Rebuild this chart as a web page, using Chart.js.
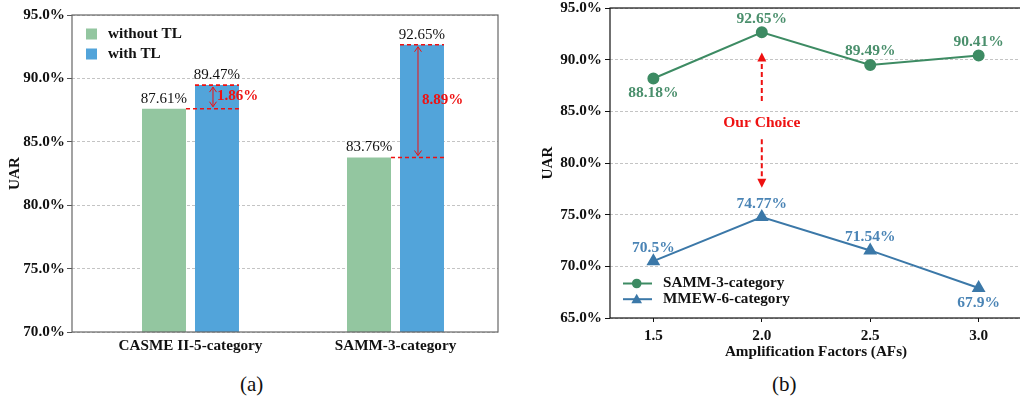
<!DOCTYPE html>
<html>
<head>
<meta charset="utf-8">
<script src="https://cdn.jsdelivr.net/npm/chart.js@4/dist/chart.umd.min.js"></script>
<style>
  html, body { margin: 0; padding: 0; background: #fff; overflow: hidden; }
  body { width: 1020px; height: 401px; position: relative; }
  #chartA { position: absolute; left: 0; top: 0; }
  #chartB { position: absolute; left: 510px; top: 0; }
  .caption { position: absolute; top: 372px; font: 21px "Liberation Serif", serif; color: #111; }
</style>
</head>
<body>
<canvas id="chartA" width="510" height="360"></canvas>
<canvas id="chartB" width="520" height="365"></canvas>
<div class="caption" style="left:240px">(a)</div>
<div class="caption" style="left:772px">(b)</div>
<script>
'use strict';

// (a) transfer learning bars
const barCategories = ['CASME II-5-category', 'SAMM-3-category'];
const withoutTL = [87.61, 83.76];
const withTL = [89.47, 92.65];
const barTicks = [70, 75, 80, 85, 90, 95];

// (b) amplification factors
const afValues = [1.5, 2.0, 2.5, 3.0];
const sammUAR = [88.18, 92.65, 89.49, 90.41];
const mmewUAR = [70.5, 74.77, 71.54, 67.9];
const lineTicks = [65, 70, 75, 80, 85, 90, 95];

const SERIF = '"Liberation Serif", "Times New Roman", serif';
const GREEN_BAR = '#93c6a0';
const BLUE_BAR = '#52a4da';
const GREEN_LINE = '#3d8b63';
const BLUE_LINE = '#3b78a8';
const RED = '#ee1111';
const AXIS_FONT = 15.2;

Chart.defaults.font.family = SERIF;
Chart.defaults.color = '#111';

function pct(v) { return v.toFixed(1) + '%'; }

function fixWidth(w) {
    return function(scale) { scale.width = w; scale.paddingTop = 0; scale.paddingBottom = 0; };
}
function fixHeight(h) {
    return function(scale) { scale.height = h; scale.paddingLeft = 0; scale.paddingRight = 0; };
}

// box round the plot area
const frame = {
    id: 'frame',
    afterDraw(chart, args, opts) {
        const a = chart.chartArea, ctx = chart.ctx;
        ctx.save();
        ctx.strokeStyle = opts.color;
        ctx.lineWidth = 1.2;
        ctx.strokeRect(a.left, a.top, a.right - a.left, a.bottom - a.top);
        ctx.restore();
    }
};

function arrowHead(ctx, x, y, dir, len, half, filled) {
    ctx.beginPath();
    ctx.moveTo(x - half, y - dir * len);
    ctx.lineTo(x, y);
    ctx.lineTo(x + half, y - dir * len);
    if (filled) { ctx.closePath(); ctx.fill(); } else { ctx.stroke(); }
}

// ---------- chart (a) ----------
const barAnnot = {
    id: 'barAnnot',
    afterDatasetsDraw(chart) {
        const ctx = chart.ctx, y = chart.scales.y;
        const m0 = chart.getDatasetMeta(0), m1 = chart.getDatasetMeta(1);
        ctx.save();
        // value labels
        ctx.font = '15px ' + SERIF;
        ctx.fillStyle = '#111';
        ctx.textAlign = 'center';
        ctx.textBaseline = 'middle';
        [m0, m1].forEach((m, d) => {
            m.data.forEach((bar, i) => {
                ctx.fillText(chart.data.datasets[d].data[i].y.toFixed(2) + '%', bar.x, bar.y - 10);
            });
        });
        // gain markers
        m1.data.forEach((bar, i) => {
            const g = m0.data[i];
            const yTop = y.getPixelForValue(withTL[i]);
            const yLow = y.getPixelForValue(withoutTL[i]);
            const right = bar.x + bar.width / 2;
            ctx.strokeStyle = RED;
            ctx.lineWidth = 1.6;
            ctx.setLineDash([4, 3]);
            ctx.beginPath();
            ctx.moveTo(bar.x - bar.width / 2, yTop); ctx.lineTo(right, yTop);
            ctx.moveTo(g.x + g.width / 2, yLow); ctx.lineTo(right, yLow);
            ctx.stroke();
            ctx.setLineDash([]);
            const ax = bar.x - 4;
            ctx.lineWidth = 1;
            ctx.beginPath();
            ctx.moveTo(ax, yTop + 2); ctx.lineTo(ax, yLow - 2);
            ctx.stroke();
            arrowHead(ctx, ax, yTop + 2, -1, 5, 3.5, false);
            arrowHead(ctx, ax, yLow - 2, 1, 5, 3.5, false);
            ctx.fillStyle = RED;
            ctx.font = 'bold 15px ' + SERIF;
            ctx.textAlign = 'left';
            ctx.fillText((withTL[i] - withoutTL[i]).toFixed(2) + '%', ax + 4, (yTop + yLow) / 2 - 1);
        });
        // legend
        ctx.textAlign = 'left';
        ctx.font = 'bold ' + AXIS_FONT + 'px ' + SERIF;
        chart.data.datasets.forEach((ds, d) => {
            const ly = 34 + d * 20;
            ctx.fillStyle = ds.backgroundColor;
            ctx.fillRect(86, ly - 5.5, 11, 11);
            ctx.fillStyle = '#111';
            ctx.fillText(ds.label, 108, ly);
        });
        ctx.restore();
    }
};

new Chart(document.getElementById('chartA'), {
    type: 'bar',
    data: {
        datasets: [
            { label: 'without TL', data: withoutTL.map((v, i) => ({ x: i, y: v })), backgroundColor: GREEN_BAR },
            { label: 'with TL', data: withTL.map((v, i) => ({ x: i, y: v })), backgroundColor: BLUE_BAR }
        ]
    },
    options: {
        responsive: false,
        animation: false,
        events: [],
        categoryPercentage: 0.517,
        barPercentage: 0.83,
        layout: { padding: { left: 0, right: 12, top: 15, bottom: 0 } },
        plugins: { legend: { display: false }, tooltip: { enabled: false }, frame: { color: '#666' } },
        scales: {
            x: {
                type: 'linear',
                min: -0.578,
                max: 1.5,
                offset: false,
                afterBuildTicks: s => { s.ticks = barCategories.map((c, i) => ({ value: i })); },
                afterFit: fixHeight(28),
                grid: { display: false, drawTicks: false, offset: false },
                border: { display: false },
                ticks: {
                    padding: 5,
                    maxRotation: 0,
                    autoSkip: false,
                    font: { size: AXIS_FONT, weight: 'bold' },
                    color: '#111',
                    callback: v => barCategories[v]
                }
            },
            y: {
                min: 70,
                max: 95,
                afterBuildTicks: s => { s.ticks = barTicks.map(v => ({ value: v })); },
                afterFit: fixWidth(72),
                grid: { color: '#b5b5b5', lineWidth: 0.8, tickLength: 5, tickColor: '#555', tickWidth: 1, tickBorderDash: [] },
                border: { display: false, dash: [3, 2] },
                title: { display: true, text: 'UAR', font: { size: AXIS_FONT, weight: 'bold' }, color: '#111', padding: { top: 6, bottom: 0 } },
                ticks: { padding: 2, font: { size: AXIS_FONT, weight: 'bold' }, color: '#111', callback: pct }
            }
        }
    },
    plugins: [frame, barAnnot]
});

// ---------- chart (b) ----------
const lineAnnot = {
    id: 'lineAnnot',
    afterDatasetsDraw(chart) {
        const ctx = chart.ctx, x = chart.scales.x, y = chart.scales.y;
        ctx.save();
        ctx.font = 'bold 15.5px ' + SERIF;
        ctx.textAlign = 'center';
        ctx.textBaseline = 'middle';
        chart.data.datasets.forEach((ds, d) => {
            chart.getDatasetMeta(d).data.forEach((pt, i) => {
                ctx.fillStyle = ds.labelColor;
                const off = ds.labelSide[i] === 'below' ? 14.5 : -13.5;
                ctx.fillText(ds.data[i].y + '%', pt.x, pt.y + off);
            });
        });
        // "Our Choice" pointer
        const cx = x.getPixelForValue(2.0);
        ctx.fillStyle = RED;
        ctx.strokeStyle = RED;
        ctx.fillText('Our Choice', cx, y.getPixelForValue(83.9));
        ctx.lineWidth = 2;
        ctx.setLineDash([5, 3]);
        const upFrom = y.getPixelForValue(86.0), upTo = y.getPixelForValue(90.7);
        const dnFrom = y.getPixelForValue(82.3), dnTo = y.getPixelForValue(77.6);
        ctx.beginPath();
        ctx.moveTo(cx, upFrom); ctx.lineTo(cx, upTo + 8);
        ctx.moveTo(cx, dnFrom); ctx.lineTo(cx, dnTo - 8);
        ctx.stroke();
        ctx.setLineDash([]);
        arrowHead(ctx, cx, upTo, -1, 9, 4.5, true);
        arrowHead(ctx, cx, dnTo, 1, 9, 4.5, true);
        // legend
        ctx.textAlign = 'left';
        ctx.font = 'bold ' + AXIS_FONT + 'px ' + SERIF;
        chart.data.datasets.forEach((ds, d) => {
            const ly = 283.5 + d * 15.7;
            ctx.strokeStyle = ds.borderColor;
            ctx.lineWidth = 2;
            ctx.beginPath();
            ctx.moveTo(113, ly); ctx.lineTo(142, ly);
            ctx.stroke();
            ctx.fillStyle = ds.borderColor;
            ctx.beginPath();
            if (ds.pointStyle === 'triangle') {
                ctx.moveTo(126.7, ly - 5.5); ctx.lineTo(132, ly + 4); ctx.lineTo(121.4, ly + 4); ctx.closePath();
            } else {
                ctx.arc(126.7, ly, 4.8, 0, Math.PI * 2);
            }
            ctx.fill();
            ctx.fillStyle = '#111';
            ctx.fillText(ds.label, 153, ly);
        });
        ctx.restore();
    }
};

new Chart(document.getElementById('chartB'), {
    type: 'line',
    data: {
        datasets: [
            {
                label: 'SAMM-3-category',
                data: afValues.map((a, i) => ({ x: a, y: sammUAR[i] })),
                borderColor: GREEN_LINE, backgroundColor: GREEN_LINE, labelColor: '#4a8f6c',
                labelSide: ['below', 'above', 'above', 'above'],
                borderWidth: 2, pointStyle: 'circle', pointRadius: 5, tension: 0
            },
            {
                label: 'MMEW-6-category',
                data: afValues.map((a, i) => ({ x: a, y: mmewUAR[i] })),
                borderColor: BLUE_LINE, backgroundColor: BLUE_LINE, labelColor: '#4a84b5',
                labelSide: ['above', 'above', 'above', 'below'],
                borderWidth: 2, pointStyle: 'triangle', pointRadius: 6, tension: 0
            }
        ]
    },
    options: {
        responsive: false,
        animation: false,
        events: [],
        layout: { padding: { left: 0, right: 0, top: 7, bottom: 0 } },
        plugins: { legend: { display: false }, tooltip: { enabled: false }, frame: { color: '#111' } },
        scales: {
            x: {
                type: 'linear',
                min: 1.3,
                max: 3.2,
                afterBuildTicks: s => { s.ticks = afValues.map(v => ({ value: v })); },
                afterFit: fixHeight(47),
                grid: { drawOnChartArea: false, tickLength: 4, tickColor: '#111' },
                border: { display: false },
                title: { display: true, text: 'Amplification Factors (AFs)', font: { size: AXIS_FONT, weight: 'bold' }, color: '#111', padding: { top: 0, bottom: 4 } },
                ticks: { padding: 5, font: { size: AXIS_FONT, weight: 'bold' }, color: '#111', callback: v => v.toFixed(1) }
            },
            y: {
                min: 65,
                max: 95,
                afterBuildTicks: s => { s.ticks = lineTicks.map(v => ({ value: v })); },
                afterFit: fixWidth(100),
                grid: { color: '#b5b5b5', lineWidth: 0.8, tickLength: 5, tickColor: '#111', tickWidth: 1, tickBorderDash: [] },
                border: { display: false, dash: [3, 2] },
                title: { display: true, text: 'UAR', font: { size: AXIS_FONT, weight: 'bold' }, color: '#111', padding: { top: 29, bottom: 0 } },
                ticks: { padding: 3, font: { size: AXIS_FONT, weight: 'bold' }, color: '#111', callback: pct }
            }
        }
    },
    plugins: [frame, lineAnnot]
});
</script>
</body>
</html>
